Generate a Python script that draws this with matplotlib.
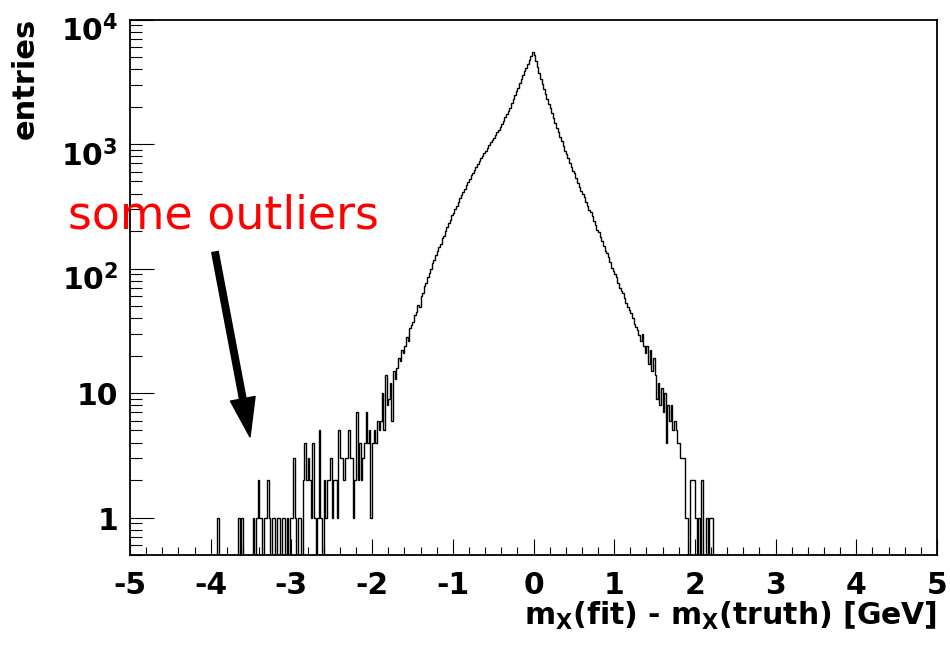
import numpy as np
import matplotlib
matplotlib.use("Agg")
import matplotlib.pyplot as plt
from matplotlib.ticker import MultipleLocator, LogLocator, NullFormatter, FixedLocator
from matplotlib.transforms import ScaledTranslation, blended_transform_factory

plt.rcParams["font.family"] = ["DejaVu Sans"]
plt.rcParams["font.weight"] = "bold"
plt.rcParams["axes.unicode_minus"] = False
plt.rcParams["mathtext.fontset"] = "dejavusans"
plt.rcParams["mathtext.default"] = "bf"

# ---- histogram contents: m_X(fit) - m_X(truth), 0.02 GeV bins ----
BIN_WIDTH = 0.02
X_MIN, X_MAX = -5.0, 5.0

# sparse low-side outliers, bins from -3.92 up to -1.90
left_tail_start = -3.92
left_tail_counts = [
    1, 0, 0, 0, 0, 0, 0, 0, 0, 0, 0, 0, 0, 1, 0, 1, 0, 0, 0, 0,
    0, 0, 1, 0, 1, 2, 1, 1, 0, 1, 1, 2, 1, 0, 1, 1, 0, 1, 1, 0,
    1, 1, 0, 1, 0, 1, 1, 3, 1, 0, 1, 1, 0, 2, 4, 2, 3, 2, 1, 4,
    1, 0, 1, 5, 1, 0, 2, 1, 2, 2, 3, 1, 2, 2, 1, 5, 3, 3, 2, 3,
    3, 5, 3, 3, 1, 2, 7, 2, 4, 2, 3, 4, 7, 4, 5, 1, 4, 5, 4, 6,
    5,
]

# core of the distribution, bins from -1.90 to 0.00
core_start = -1.90
core_counts_neg = [
    6, 10, 5, 14, 8,
    9, 12, 6, 15, 13,
    16, 19, 18, 22, 21,
    24, 28, 26, 33, 35,
    37, 42, 45, 51, 49,
    60, 63, 72, 76, 85,
    92, 99, 110, 118, 128,
    138, 150, 158, 176, 184,
    201, 214, 233, 246, 268,
    281, 302, 320, 342, 366,
    389, 414, 438, 471, 497,
    525, 560, 588, 624, 657,
    690, 725, 768, 800, 845,
    885, 930, 975, 1030, 1072,
    1120, 1180, 1245, 1300, 1370,
    1450, 1540, 1650, 1740, 1850,
    1960, 2120, 2290, 2480, 2660,
    2840, 3100, 3330, 3580, 3850,
    4100, 4420, 4760, 5050, 5500,
]

# core of the distribution, bins from 0.00 to 1.90
core_counts_pos = [
    5150, 4600, 4150, 3720, 3350,
    3040, 2780, 2520, 2310, 2100,
    1930, 1770, 1620, 1480, 1350,
    1250, 1140, 1050, 960, 880,
    830, 770, 700, 650, 608,
    580, 535, 490, 452, 418,
    400, 372, 340, 318, 296,
    284, 262, 240, 222, 204,
    197, 180, 166, 151, 139,
    133, 124, 112, 101, 96,
    90, 86, 76, 70, 66,
    64, 58, 53, 49, 46,
    44, 40, 36, 34, 32,
    29, 26, 30, 24, 21,
    24, 17, 22, 15, 19,
    14, 9, 12, 8, 11,
    7, 10, 4, 8, 6,
    8, 5, 6, 5, 4,
    4, 3, 3, 3, 1,
]

# high-side tail, bins from 1.90 up to 2.22
right_tail_start = 1.90
right_tail_counts = [1, 0, 2, 2, 2, 1, 0, 1, 0, 2, 0, 0, 1, 0, 1, 1]

y_tick_values = [1, 10, 100, 1000, 10000]
y_tick_labels = ["1", "10", r"10$^{2}$", r"10$^{3}$", r"10$^{4}$"]
x_title = r"$\mathbf{m_{X}}$(fit) - $\mathbf{m_{X}}$(truth) [GeV]"
y_title = "entries"
note_text = "some outliers"

# ---- assemble the binned histogram ----
n_bins = int(round((X_MAX - X_MIN) / BIN_WIDTH))
edges = np.linspace(X_MIN, X_MAX, n_bins + 1)
counts = np.zeros(n_bins)


def fill(start, values):
    i0 = int(round((start - X_MIN) / BIN_WIDTH))
    counts[i0:i0 + len(values)] = values


fill(left_tail_start, left_tail_counts)
fill(core_start, core_counts_neg)
fill(0.0, core_counts_pos)
fill(right_tail_start, right_tail_counts)

# ---- figure ----
fig = plt.figure(figsize=(9.5, 6.45), dpi=100)
ax = fig.add_axes([130 / 950, 1 - 555 / 645, 807 / 950, 535.5 / 645])

ax.stairs(counts, edges, color="black", linewidth=1.0, baseline=None)

ax.set_yscale("log", nonpositive="clip")
ax.set_xlim(X_MIN, X_MAX)
ax.set_ylim(0.5, 1e4)

ax.xaxis.set_major_locator(MultipleLocator(1))
ax.xaxis.set_minor_locator(MultipleLocator(0.2))
ax.yaxis.set_major_locator(FixedLocator(y_tick_values))
ax.yaxis.set_minor_locator(LogLocator(base=10, subs=np.arange(2, 10), numticks=20))
ax.yaxis.set_minor_formatter(NullFormatter())

ax.tick_params(axis="both", which="both", direction="in", top=False, right=False,
               color="black", width=0.8)
ax.tick_params(axis="x", which="major", length=11.5, labelsize=21.5, pad=11.3)
ax.tick_params(axis="x", which="minor", length=5.8)
ax.tick_params(axis="y", which="major", length=17.4, labelleft=False)
ax.tick_params(axis="y", which="minor", length=8.7)
for lbl in ax.get_xticklabels():
    lbl.set_fontweight("bold")

for sp in ax.spines.values():
    sp.set_linewidth(1.3)
    sp.set_color("black")

# y tick labels, set on the baseline just below each decade
ytrans = blended_transform_factory(ax.transAxes, ax.transData)
for val, lab in zip(y_tick_values, y_tick_labels):
    drop = 0.22 if "$" in lab else 0.12
    ax.text(-12 / 807, val, lab, ha="right", va="baseline", fontsize=21.5,
            fontweight="bold",
            transform=ytrans + ScaledTranslation(0, -drop, fig.dpi_scale_trans))

# axis titles
fig.text(937 / 950, 1 - 625 / 645, x_title, ha="right", va="baseline",
         fontsize=21.5, fontweight="bold")
fig.text(25 / 950, 1 - 18 / 645, y_title, rotation=90, ha="center", va="top",
         fontsize=22, fontweight="bold")

# annotation for the low-side tail
fig.text(68 / 950, 1 - 228 / 645, note_text, color="red", fontsize=33,
         fontweight="normal", ha="left", va="baseline")
ax.annotate("", xy=(250 / 950, 1 - 437 / 645), xycoords="figure fraction",
            xytext=(215 / 950, 1 - 252 / 645), textcoords="figure fraction",
            arrowprops=dict(facecolor="black", edgecolor="black", width=4.7,
                            headwidth=18, headlength=28, shrink=0.0))

fig.savefig("out.png", dpi=100)
